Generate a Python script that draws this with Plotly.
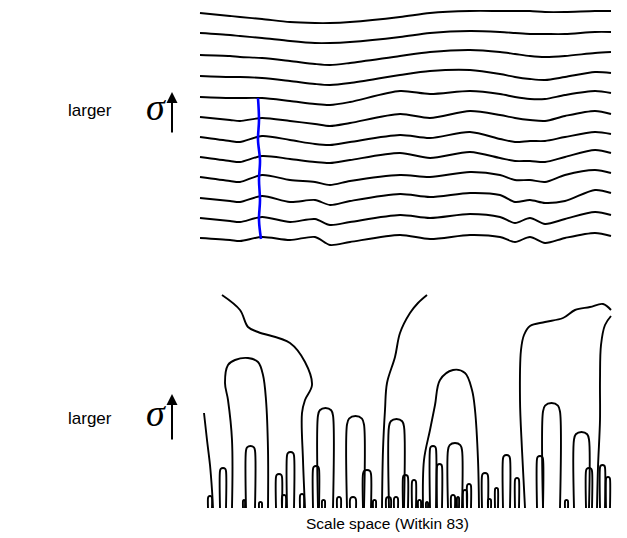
import plotly.graph_objects as go

# ---------------- top panel: smoothed signals at increasing sigma ----------------
top_x = [200, 230, 240, 262, 290, 315, 330, 350, 400, 430, 470, 500, 515, 530, 545, 565, 595, 611]
sig_s1 = [13, 16, 17, 19, 22, 23, 23, 22, 17, 13, 11, 11, 11, 11, 12, 12, 11, 11]
sig_s2 = [33, 35, 36, 38, 41, 43, 43, 42, 37, 33, 31, 32, 33, 34, 34, 34, 32, 32]
sig_s3 = [55, 56, 57, 58, 61, 64, 65, 63, 56, 52, 50, 52, 54, 56, 57, 56, 53, 52]
sig_s4 = [76, 77, 77, 78, 81, 84, 85, 83, 75, 71, 70, 74, 77, 79, 80, 77, 72, 73]
sig_s5 = [97, 98, 98, 98, 101, 104, 105, 102, 91, 94, 91, 94, 97, 99, 99, 95, 91, 93]
sig_s6 = [117, 120, 121, 118, 121, 124, 126, 123, 114, 118, 111, 115, 118, 120, 121, 116, 111, 114]
sig_s7 = [137, 141, 142, 136, 140, 144, 145, 142, 135, 138, 132, 139, 142, 141, 141, 137, 132, 134]
sig_s8 = [157, 161, 162, 156, 159, 162, 163, 160, 153, 158, 152, 158, 161, 161, 162, 157, 150, 153]
sig_s9 = [177, 181, 182, 175, 180, 182, 185, 181, 175, 177, 172, 175, 180, 180, 182, 175, 170, 173]
sig_s10 = [198, 201, 202, 196, 202, 200, 205, 201, 194, 197, 193, 195, 202, 200, 203, 201, 190, 193]
sig_s11 = [218, 221, 222, 217, 222, 219, 225, 222, 215, 218, 214, 217, 223, 218, 224, 219, 212, 215]
sig_s12 = [238, 240, 241, 237, 240, 237, 245, 242, 235, 239, 235, 237, 242, 237, 243, 238, 233, 236]

# blue track of one zero crossing through the scales
blue_x = [258, 259, 258, 260, 259, 260, 259, 261]
blue_y = [98, 120, 140, 160, 180, 200, 220, 239]

# ---------------- bottom panel: zero-crossing contours ----------------
base_y = 508
# open contours
curveA_x = [222, 240, 248, 258, 290, 305, 312, 305, 302, 303, 305]
curveA_y = [295, 310, 327, 332, 343, 362, 385, 400, 413, 460, 508]
curveL_x = [204, 207, 210, 212, 213]
curveL_y = [413, 440, 465, 490, 508]
curveF_x = [427, 418, 410, 400, 395, 387, 385, 383, 382]
curveF_y = [295, 303, 313, 333, 357, 383, 410, 450, 508]
curveD1_x = [525, 522, 520, 521, 524, 530, 545, 563, 575, 590, 603, 611]
curveD1_y = [508, 450, 400, 350, 335, 326, 322, 318, 310, 307, 304, 310]
curveD2_x = [611, 605, 601, 600, 600, 598, 597]
curveD2_y = [316, 325, 345, 380, 420, 467, 508]
archB_x = [232, 232, 228, 225, 228, 235, 248, 258, 263, 266, 268, 268]
archB_y = [508, 440, 400, 383, 365, 360, 358, 362, 375, 400, 450, 508]
archC_x = [423, 424, 430, 435, 440, 453, 465, 472, 475, 478, 479]
archC_y = [508, 460, 430, 405, 380, 370, 373, 390, 410, 460, 508]

# closed-top arches: left foot, right foot, apex height
arch_left = [208, 220, 243, 246, 259, 276, 282, 287, 300, 313, 318, 322, 337, 347, 350, 363,
             373, 389, 386, 394, 403, 412, 418, 426, 430, 437, 448, 451, 457, 463, 467, 482,
             488, 495, 503, 515, 537, 543, 565, 574, 586, 600, 606]
arch_right = [212, 226, 245, 255, 262, 282, 286, 294, 304, 319, 333, 325, 341, 364, 356, 371,
              376, 404, 391, 398, 408, 416, 421, 428, 436, 442, 462, 455, 459, 467, 471, 488,
              491, 498, 510, 519, 543, 560, 568, 589, 592, 605, 610]
arch_top = [496, 468, 500, 446, 502, 474, 495, 452, 494, 466, 408, 500, 497, 416, 497, 470,
            500, 419, 497, 497, 475, 480, 500, 502, 446, 464, 443, 495, 497, 490, 484, 473,
            499, 488, 455, 478, 456, 403, 500, 432, 468, 465, 477]

title_text = "Scale space (Witkin 83)"
side_label = "larger"
sigma_label = "<i>σ</i>"

fig = go.Figure()

for ys in [sig_s1, sig_s2, sig_s3, sig_s4, sig_s5, sig_s6, sig_s7, sig_s8, sig_s9, sig_s10, sig_s11, sig_s12]:
    fig.add_trace(go.Scatter(x=top_x, y=ys, mode="lines", line=dict(color="black", width=1.9, shape="spline", smoothing=0.8),
                             hoverinfo="skip", showlegend=False))

fig.add_trace(go.Scatter(x=blue_x, y=blue_y, mode="lines", line=dict(color="#0000ff", width=2.6, shape="spline"),
                         hoverinfo="skip", showlegend=False))

for cx, cy in [(curveA_x, curveA_y), (curveL_x, curveL_y), (curveF_x, curveF_y), (curveD1_x, curveD1_y),
               (curveD2_x, curveD2_y), (archB_x, archB_y), (archC_x, archC_y)]:
    fig.add_trace(go.Scatter(x=cx, y=cy, mode="lines", line=dict(color="black", width=1.9, shape="spline", smoothing=1.0),
                             hoverinfo="skip", showlegend=False))

for l, r, t in zip(arch_left, arch_right, arch_top):
    w = r - l
    c = (l + r) / 2
    h = base_y - t
    rad = min(w / 2, h * 0.6)
    xs = [l, l, l + w * 0.12, c, r - w * 0.12, r, r]
    ys = [base_y, t + rad, t + rad * 0.3, t, t + rad * 0.3, t + rad, base_y]
    fig.add_trace(go.Scatter(x=xs, y=ys, mode="lines", line=dict(color="black", width=1.9, shape="spline", smoothing=0.9),
                             hoverinfo="skip", showlegend=False))

anns = []
for ly, sy, a0, a1 in [(110, 107, 134, 92), (418, 413, 441, 394)]:
    anns.append(dict(x=90, y=ly, text=side_label, showarrow=False, font=dict(family="Liberation Sans, Arial", size=17, color="black"),
                     xref="x", yref="y"))
    anns.append(dict(x=156, y=sy, text=sigma_label, showarrow=False,
                     font=dict(family="Liberation Serif, Times New Roman", size=38, color="black"), xref="x", yref="y"))
    anns.append(dict(x=172, y=a1, ax=172, ay=a0, axref="x", ayref="y", xref="x", yref="y", text="", showarrow=True,
                     arrowhead=2, arrowsize=1.1, arrowwidth=2, arrowcolor="black"))
anns.append(dict(x=387, y=523, text=title_text, showarrow=False, font=dict(family="Liberation Sans, Arial", size=15.5, color="black"),
                 xref="x", yref="y"))

# the page body adds an 8 px margin, so the axis ranges are offset to keep data in page pixels
fig.update_layout(
    width=627, height=538, margin=dict(l=0, r=0, t=0, b=0),
    paper_bgcolor="white", plot_bgcolor="white",
    xaxis=dict(range=[8, 635], visible=False, fixedrange=True),
    yaxis=dict(range=[546, 8], visible=False, fixedrange=True),
    annotations=anns, showlegend=False,
)
fig.write_html("out.html")
